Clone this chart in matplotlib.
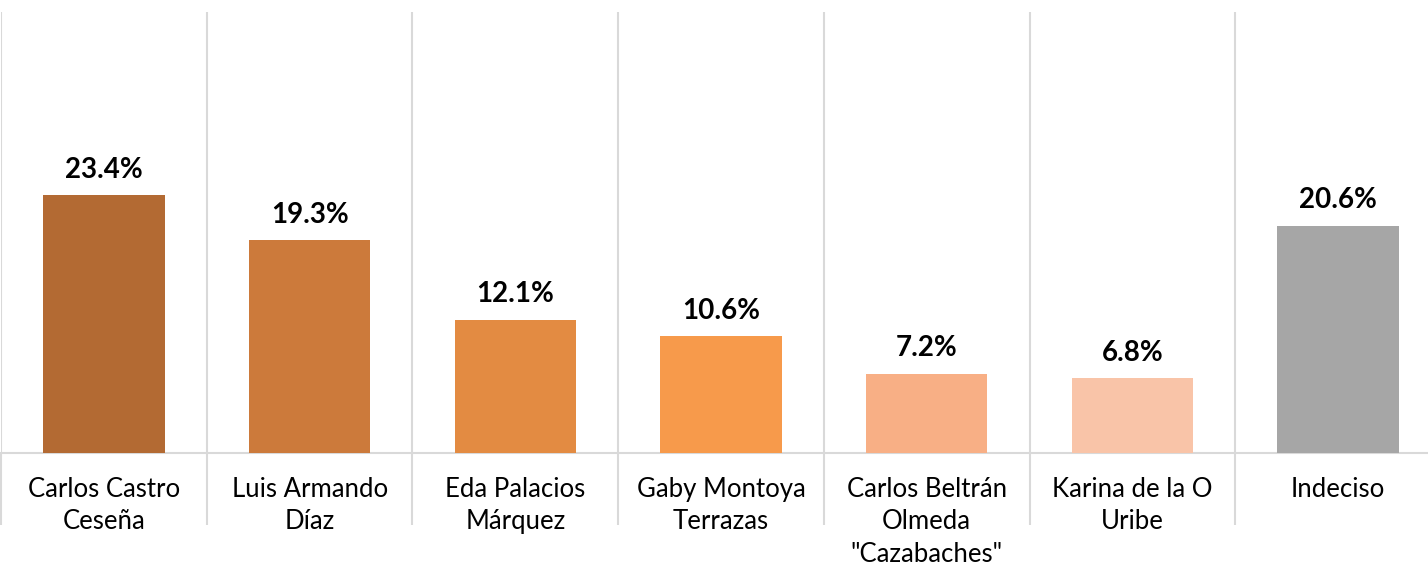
import matplotlib.pyplot as plt
import numpy as np

candidates = [
    "Carlos Castro\nCeseña",
    "Luis Armando\nDíaz",
    "Eda Palacios\nMárquez",
    "Gaby Montoya\nTerrazas",
    "Carlos Beltrán\nOlmeda\n\"Cazabaches\"",
    "Karina de la O\nUribe",
    "Indeciso",
]
values = [23.4, 19.3, 12.1, 10.6, 7.2, 6.8, 20.6]
colors = ["#B36A33", "#CC7A3B", "#E38B42", "#F79A4B", "#F8AF85", "#F9C4A8", "#A6A6A6"]

plt.rcParams["font.family"] = ["Lato", "DejaVu Sans"]

fig = plt.figure(figsize=(14.28, 5.66), dpi=100)
# plot area runs slightly past the right edge, like the cropped original
ax = fig.add_axes([0.0007, 1 - 453 / 566, 1440 / 1428, 441 / 566])

x = np.arange(len(values))
bars = ax.bar(x, values, width=0.59, color=colors, zorder=3)

for rect, v in zip(bars, values):
    ax.annotate(f"{v:.1f}%", (rect.get_x() + rect.get_width() / 2, v),
                xytext=(0, 9), textcoords="offset points",
                ha="center", va="bottom", fontsize=20, fontweight="bold")

ax.set_xlim(-0.5, len(values) - 0.5)
ax.set_ylim(0, 40)
ax.set_yticks([])

ax.set_xticks(x)
ax.set_xticklabels(candidates, fontsize=18.5, linespacing=1.38, va="top")
ax.tick_params(axis="x", which="major", length=0, pad=17)

ax.set_xticks(np.arange(-0.5, len(values)), minor=True)
ax.tick_params(axis="x", which="minor", length=52, width=1.5, color="#D9D9D9")
ax.grid(which="minor", axis="x", color="#D9D9D9", linewidth=1.5, zorder=0)

for side in ["top", "right", "left"]:
    ax.spines[side].set_visible(False)
ax.spines["bottom"].set_color("#D9D9D9")
ax.spines["bottom"].set_linewidth(1.5)

fig.savefig("out.png", dpi=100)
